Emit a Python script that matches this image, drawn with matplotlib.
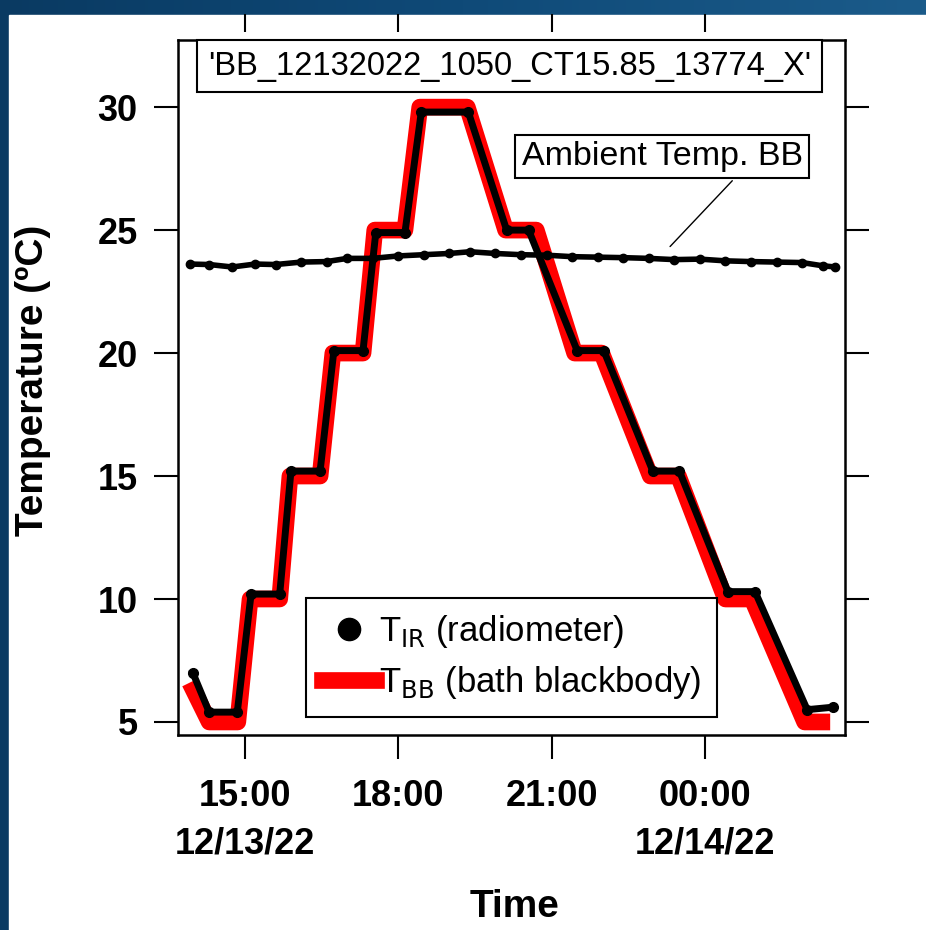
import numpy as np
import matplotlib
matplotlib.use('Agg')
import matplotlib.pyplot as plt
from matplotlib.lines import Line2D
from matplotlib.patches import Rectangle

plt.rcParams['font.family'] = ['Liberation Sans', 'DejaVu Sans']

# 时间以小时计 (从 12/13/22 00:00 起算)
bb_time = [13.92, 14.30, 14.86, 15.10, 15.68, 15.88, 16.47, 16.72, 17.31, 17.54, 18.13,
           18.42, 19.35, 20.10, 20.70, 21.45, 21.98, 22.93, 23.48, 24.40, 24.92, 25.95, 26.45]
bb_temp = [6.6, 5.0, 5.0, 10.0, 10.0, 15.0, 15.0, 20.0, 20.0, 25.0, 25.0,
           30.0, 30.0, 25.0, 25.0, 20.0, 20.0, 15.0, 15.0, 10.0, 10.0, 5.0, 5.0]

ir_time = [13.98, 14.30, 14.85, 15.12, 15.68, 15.90, 16.47, 16.74, 17.31, 17.56, 18.13,
           18.45, 19.37, 20.12, 20.55, 21.50, 22.02, 22.98, 23.50, 24.45, 24.98, 26.00, 26.50]
ir_temp = [7.0, 5.4, 5.4, 10.2, 10.2, 15.2, 15.2, 20.1, 20.1, 24.9, 24.9,
           29.8, 29.8, 25.0, 25.0, 20.1, 20.1, 15.2, 15.2, 10.3, 10.3, 5.5, 5.6]

amb_time = [13.92, 14.3, 14.75, 15.2, 15.6, 16.1, 16.6, 17.0, 17.5, 18.0, 18.5, 19.0, 19.4, 19.9,
            20.4, 20.9, 21.4, 21.9, 22.4, 22.9, 23.4, 23.9, 24.4, 24.9, 25.4, 25.9, 26.3, 26.55]
amb_temp = [23.62, 23.6, 23.5, 23.62, 23.6, 23.7, 23.72, 23.85, 23.85, 23.95, 24.0, 24.05, 24.12, 24.05,
            24.0, 23.98, 23.92, 23.9, 23.88, 23.85, 23.8, 23.82, 23.75, 23.72, 23.7, 23.68, 23.55, 23.5]

tick_hours = [15, 18, 21, 24]
tick_labels = ['15:00\n12/13/22', '18:00', '21:00', '00:00\n12/14/22']
y_ticks = [5, 10, 15, 20, 25, 30]

fig = plt.figure(figsize=(9.26, 9.30), dpi=100)

# 背景: 深蓝渐变 + 白色面板
bg = fig.add_axes([0, 0, 1, 1], zorder=-10)
grad = np.linspace(0, 1, 256)[None, :]
bg.imshow(grad, aspect='auto', extent=[0, 1, 0, 1], cmap=matplotlib.colors.LinearSegmentedColormap.from_list(
    'bg', ['#0a3a62', '#0f4a78', '#1b5b8a']))
bg.add_patch(Rectangle((9 / 926, 0), 1, (930 - 15) / 930, color='white'))
bg.set_xlim(0, 1)
bg.set_ylim(0, 1)
bg.axis('off')

ax = fig.add_axes([178 / 926, (930 - 735) / 930, 667 / 926, 695 / 930])
ax.set_facecolor('white')

ax.plot(bb_time, bb_temp, color='red', lw=12, solid_joinstyle='round', solid_capstyle='butt', zorder=2)
ax.plot(ir_time, ir_temp, color='black', lw=5, marker='o', ms=7, zorder=3)
ax.plot(amb_time, amb_temp, color='black', lw=4, marker='o', ms=6, zorder=3)

ax.set_xlim(13.69, 26.74)
ax.set_ylim(4.47, 32.73)

ax.set_xticks(tick_hours)
ax.set_xticklabels(tick_labels, fontsize=26, fontweight='bold', linespacing=1.45)
ax.set_yticks(y_ticks)
ax.set_yticklabels([str(v) for v in y_ticks], fontsize=26, fontweight='bold')
ax.tick_params(axis='x', direction='out', length=17, width=1.5, pad=15)
ax.tick_params(axis='y', direction='out', length=17, width=1.5, pad=12, right=True)
for sp in ax.spines.values():
    sp.set_linewidth(1.8)

# 顶部刻度 (与边框有间隔)
sec = ax.secondary_xaxis(1.011)
sec.set_xticks(tick_hours)
sec.set_xticklabels([])
sec.tick_params(direction='out', length=13, width=1.5)
sec.spines['top'].set_visible(False)

ax.set_ylabel('Temperature (ºC)', fontsize=28, fontweight='bold')
ax.yaxis.set_label_coords(-0.19, 0.51)
ax.set_xlabel('Time', fontsize=28, fontweight='bold')
ax.xaxis.set_label_coords(0.505, -0.222)

ax.text(0.497, 0.962, "'BB_12132022_1050_CT15.85_13774_X'", transform=ax.transAxes,
        ha='center', va='center', fontsize=23.5, zorder=5,
        bbox=dict(boxstyle='square,pad=0.32', fc='white', ec='black', lw=1.5))

ax.annotate('Ambient Temp. BB', xy=(23.28, 24.25), xytext=(23.16, 28.0),
            ha='center', va='center', fontsize=24.5, zorder=5,
            bbox=dict(boxstyle='square,pad=0.18', fc='white', ec='black', lw=1.5),
            arrowprops=dict(arrowstyle='-', color='black', lw=1, relpos=(0.78, 0)))

handles = [Line2D([], [], color='black', marker='o', ls='none', ms=16),
           Line2D([], [], color='red', lw=12)]
labels = [r'T$_{\mathrm{IR}}$ (radiometer)', r'T$_{\mathrm{BB}}$ (bath blackbody)']
leg = ax.legend(handles, labels, loc='lower left', bbox_to_anchor=(0.192, 0.026), fontsize=25,
                frameon=True, fancybox=False, edgecolor='black', framealpha=1, handlelength=1.55,
                borderpad=0.45, labelspacing=0.4, handletextpad=0.1, borderaxespad=0)
leg.get_frame().set_linewidth(1.5)
leg.set_zorder(6)

fig.savefig('out.png', dpi=100)
